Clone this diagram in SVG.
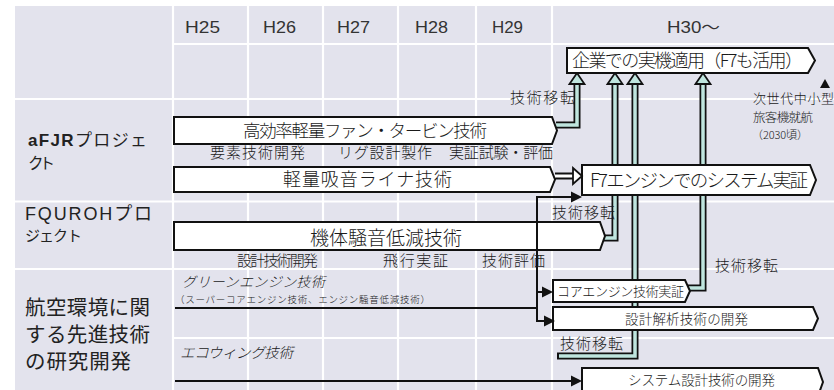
<svg xmlns="http://www.w3.org/2000/svg" width="834" height="390" viewBox="0 0 834 390">
<style>
.t{font-family:"Liberation Sans","Noto Sans CJK JP",sans-serif;fill:#333}
.j{font-family:"Noto Sans CJK JP",sans-serif;fill:#1a1a1a;font-weight:300}
.it{font-style:italic}
.box{fill:#fff;stroke:#111;stroke-width:2}
.ob{fill:none;stroke:#111;stroke-width:7;stroke-linejoin:miter}
.ib{fill:none;stroke:#bfe5de;stroke-width:3.5;stroke-linejoin:miter}
.hd{fill:#bfe5de;stroke:#111;stroke-width:1.8;stroke-linejoin:miter}
.ln{fill:none;stroke:#111;stroke-width:2}
.ah{fill:#111}
.gl{stroke:#fff;stroke-width:2.2}
</style>
<rect width="834" height="390" fill="#fff"/>
<g id="grid">
<rect x="15" y="6" width="819" height="384" fill="#e3e3ed"/>
<line class="gl" x1="173" y1="6" x2="173" y2="390"/>
<line class="gl" x1="248" y1="6" x2="248" y2="390"/>
<line class="gl" x1="323" y1="6" x2="323" y2="390"/>
<line class="gl" x1="398" y1="6" x2="398" y2="390"/>
<line class="gl" x1="476" y1="6" x2="476" y2="390"/>
<line class="gl" x1="552" y1="6" x2="552" y2="390"/>
<line class="gl" x1="173" y1="44" x2="834" y2="44"/>
<line class="gl" x1="15" y1="99" x2="834" y2="99"/>
<line class="gl" x1="15" y1="201.5" x2="834" y2="201.5"/>
<line class="gl" x1="15" y1="269" x2="834" y2="269"/>
<line class="gl" x1="173" y1="338" x2="834" y2="338"/>
</g>
<g id="headers" class="t" font-size="16">
<text x="185" y="33" textLength="35" lengthAdjust="spacingAndGlyphs">H25</text>
<text x="263" y="33" textLength="33" lengthAdjust="spacingAndGlyphs">H26</text>
<text x="337" y="33" textLength="33" lengthAdjust="spacingAndGlyphs">H27</text>
<text x="415" y="33" textLength="33" lengthAdjust="spacingAndGlyphs">H28</text>
<text x="492" y="33" textLength="31" lengthAdjust="spacingAndGlyphs">H29</text>
<text x="667" y="33" textLength="53" lengthAdjust="spacingAndGlyphs">H30～</text>
</g>
<g id="row-labels" class="t" style="fill:#222">
<text x="28" y="146" font-size="17" textLength="119"><tspan font-weight="bold">aFJR</tspan>プロジェ</text>
<text x="28" y="169" font-size="15.5" textLength="27">クト</text>
<text x="25" y="219.5" font-size="18" textLength="127">FQUROHプロ</text>
<text x="25" y="241" font-size="15" textLength="57">ジェクト</text>
<text x="25" y="315" font-size="20.5" textLength="125">航空環境に関</text>
<text x="25" y="342" font-size="20.5" textLength="125">する先進技術</text>
<text x="25" y="369" font-size="20.5" textLength="106">の研究開発</text>
</g>
<g id="transfers">
<path class="ob" d="M556,125 H577 V85"/>
<path class="ib" d="M556,125 H577 V85"/>
<polygon class="hd" points="569.5,84 577,73 584.5,84"/>
<path class="ob" d="M603,238 H615 V85"/>
<path class="ib" d="M603,238 H615 V85"/>
<polygon class="hd" points="607.5,84 615,73 622.5,84"/>
<path class="ob" d="M557,356 H635 V85"/>
<path class="ib" d="M559,356 H635 V85"/>
<polygon class="hd" points="627.5,84 635,73 642.5,84"/>
<path class="ob" d="M688,288 H703 V85"/>
<path class="ib" d="M688,288 H703 V85"/>
<polygon class="hd" points="695.5,84 703,73 710.5,84"/>
</g>
<g id="bar-fan">
<path class="box" d="M174,117 H552 L557,130.5 L552,144 H174 Z"/>
<text class="j" x="243" y="136.5" font-size="17.5" textLength="244">高効率軽量ファン・タービン技術</text>
</g>
<g id="bar-liner">
<path class="box" d="M174,167 H550 L555,179.5 L550,192 H174 Z"/>
<text class="j" x="283" y="186" font-size="18" textLength="169">軽量吸音ライナ技術</text>
</g>
<g id="bar-noise">
<path class="box" d="M174,222 H600 L605,236 L600,250 H174 Z"/>
<text class="j" x="310" y="244.5" font-size="19" textLength="152">機体騒音低減技術</text>
</g>
<g id="box-kigyo">
<path class="box" d="M567,48 H808 L815,60.5 L808,73 H567 Z"/>
<text class="j" x="572" y="67" font-size="18" textLength="231">企業での実機適用（F7も活用）</text>
</g>
<g id="box-f7">
<path class="box" d="M582,165 H810 L816,180 L810,195 H582 Z"/>
<text class="j" x="590" y="187" font-size="18.5" textLength="218">F7エンジンでのシステム実証</text>
</g>
<g id="box-core">
<path class="box" d="M553,280 H685 L690,291 L685,302 H553 Z"/>
<text class="j" x="557" y="295.5" font-size="13" textLength="127">コアエンジン技術実証</text>
</g>
<g id="box-design">
<path class="box" d="M553,307 H813 L818,318.5 L813,330 H553 Z"/>
<text class="j" x="625" y="323.5" font-size="13.5" textLength="123">設計解析技術の開発</text>
</g>
<g id="box-system">
<path class="box" d="M582,368 H818 L823,382 L818,396 H582 Z"/>
<text class="j" x="628" y="385" font-size="13.5" textLength="147">システム設計技術の開発</text>
</g>
<g id="connectors">
<path class="ln" d="M573,197 H537 V321 H545"/>
<path class="ln" d="M175,308 H537"/>
<path class="ln" d="M537,292 H544"/>
<path class="ln" d="M175,381 H573"/>
<polygon class="ah" points="571,191.5 582,197 571,202.5"/>
<polygon class="ah" points="542,286.5 553,292 542,297.5"/>
<polygon class="ah" points="544,315.5 555,321 544,326.5"/>
<polygon class="ah" points="571,375.5 582,381 571,386.5"/>
<path d="M555,176 H574" fill="none" stroke="#111" stroke-width="7"/>
<path d="M555,176 H575" fill="none" stroke="#fff" stroke-width="3"/>
<polygon points="573,168 582,176 573,184" fill="#fff" stroke="#111" stroke-width="1.8"/>
</g>
<g id="phase-labels" class="j" font-size="15">
<text x="210" y="158" textLength="95">要素技術開発</text>
<text x="338" y="158" textLength="94">リグ設計製作</text>
<text x="449" y="158" textLength="104">実証試験・評価</text>
<text x="237" y="265.5" textLength="81">設計技術開発</text>
<text x="383" y="265.5" textLength="65">飛行実証</text>
<text x="482" y="265.5" textLength="63">技術評価</text>
</g>
<g id="transfer-labels" class="j" font-size="15">
<text x="510" y="102.5" textLength="65">技術移転</text>
<text x="552" y="217.5" textLength="63">技術移転</text>
<text x="715" y="270.5" textLength="63">技術移転</text>
<text x="560" y="348.5" textLength="63">技術移転</text>
</g>
<g id="program-labels" class="j">
<text class="it" x="182" y="287" font-size="14" textLength="143">グリーンエンジン技術</text>
<text x="175" y="303" font-size="9.5" textLength="255">（スーパーコアエンジン技術、エンジン騒音低減技術）</text>
<text class="it" x="180" y="358" font-size="14.5" textLength="113">エコウィング技術</text>
</g>
<g id="milestone">
<polygon points="820,88 825,79 830,88" fill="#111"/>
<text class="j" x="753" y="103" font-size="13" textLength="81">次世代中小型</text>
<text class="j" x="753" y="121.5" font-size="12.5" textLength="60">旅客機就航</text>
<text class="j" x="752" y="139" font-size="11" textLength="56">（2030頃）</text>
</g>
</svg>
